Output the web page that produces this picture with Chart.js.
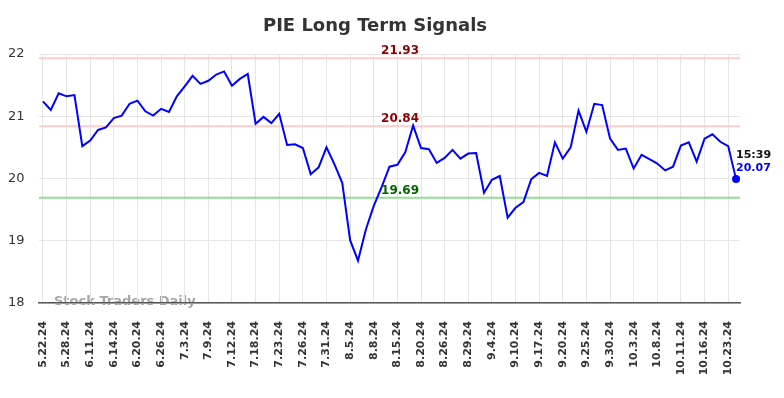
<!DOCTYPE html>
<html>
<head>
<meta charset="utf-8">
<script src="https://cdn.jsdelivr.net/npm/chart.js@4.4.0/dist/chart.umd.min.js"></script>
<style>
  html, body { margin: 0; padding: 0; background: #ffffff; }
  #wrap { width: 784px; height: 398px; position: relative; }
</style>
</head>
<body>
<div id="wrap"><canvas id="c" width="784" height="398"></canvas></div>
<script>
const chartTitle = "PIE Long Term Signals";
const tickLabels = ["5.22.24","5.28.24","6.11.24","6.14.24","6.20.24","6.26.24","7.3.24","7.9.24","7.12.24","7.18.24","7.23.24","7.26.24","7.31.24","8.5.24","8.8.24","8.15.24","8.20.24","8.26.24","8.29.24","9.4.24","9.10.24","9.17.24","9.20.24","9.25.24","9.30.24","10.3.24","10.8.24","10.11.24","10.16.24","10.23.24"];
const tickEvery = 3;
const prices = [21.24,21.10,21.37,21.32,21.34,20.52,20.61,20.78,20.82,20.97,
  21.01,21.20,21.25,21.08,21.01,21.12,21.07,21.32,21.48,21.65,
  21.52,21.57,21.67,21.72,21.49,21.60,21.68,20.88,20.99,20.89,
  21.04,20.54,20.55,20.49,20.07,20.18,20.50,20.23,19.93,19.01,
  18.68,19.18,19.56,19.86,20.19,20.22,20.42,20.85,20.49,20.47,
  20.25,20.33,20.46,20.32,20.40,20.41,19.77,19.98,20.04,19.37,
  19.53,19.62,19.99,20.09,20.04,20.58,20.32,20.50,21.09,20.75,
  21.20,21.18,20.64,20.46,20.48,20.16,20.38,20.31,20.24,20.13,
  20.19,20.53,20.58,20.27,20.64,20.71,20.59,20.52,19.99];
const levelValues = [21.93, 20.84, 19.69];
const levelLineColors = ["#ffcccc", "#ffcccc", "#90e090"];
const levelTextColors = ["#8b0000", "#8b0000", "#006400"];
const lastTime = "15:39";
const lastPriceText = "20.07";
const watermark = "Stock Traders Daily";
const yTicks = [18, 19, 20, 21, 22];

const categories = prices.map((_, i) => (i % tickEvery === 0 && tickLabels[i / tickEvery] !== undefined) ? tickLabels[i / tickEvery] : "");

const overlay = {
  id: "overlay",
  beforeDraw(chart) {
    const ctx = chart.ctx, a = chart.chartArea;
    ctx.save();
    ctx.font = "bold 13px 'DejaVu Sans'";
    ctx.fillStyle = "rgba(150,150,150,0.85)";
    ctx.textAlign = "left";
    ctx.textBaseline = "middle";
    ctx.fillText(watermark, a.left + 15, a.bottom - 1);
    ctx.restore();
  },
  beforeDatasetsDraw(chart) {
    const ctx = chart.ctx, a = chart.chartArea, ys = chart.scales.y;
    ctx.save();
    levelValues.forEach((v, k) => {
      const y = ys.getPixelForValue(v);
      ctx.strokeStyle = levelLineColors[k];
      ctx.lineWidth = 2;
      ctx.beginPath();
      ctx.moveTo(a.left, y);
      ctx.lineTo(a.right, y);
      ctx.stroke();
    });
    ctx.restore();
  },
  afterDatasetsDraw(chart) {
    const ctx = chart.ctx, a = chart.chartArea, ys = chart.scales.y, xs = chart.scales.x;
    ctx.save();
    const cx = a.left + (a.right - a.left) * 0.515;
    ctx.font = "bold 12px 'DejaVu Sans'";
    ctx.textAlign = "center";
    ctx.textBaseline = "alphabetic";
    levelValues.forEach((v, k) => {
      const y = ys.getPixelForValue(v);
      ctx.fillStyle = levelTextColors[k];
      ctx.fillText(v.toFixed(2), cx, y - 4);
    });
    const li = prices.length - 1;
    const px = xs.getPixelForValue(li);
    const py = ys.getPixelForValue(prices[li]);
    ctx.textAlign = "left";
    ctx.textBaseline = "middle";
    ctx.font = "bold 11px 'DejaVu Sans'";
    ctx.fillStyle = "#111111";
    ctx.fillText(lastTime, px, py - 24);
    ctx.fillStyle = "#0000ff";
    ctx.fillText(lastPriceText, px, py - 11);
    // title
    ctx.font = "bold 18px 'DejaVu Sans'";
    ctx.fillStyle = "#333333";
    ctx.textAlign = "center";
    ctx.textBaseline = "middle";
    ctx.fillText(chartTitle, 375, 26);
    ctx.restore();
  }
};

new Chart(document.getElementById("c"), {
  type: "line",
  data: {
    labels: categories,
    datasets: [{
      data: prices,
      borderColor: "#0000ff",
      backgroundColor: "#0000ff",
      borderWidth: 2,
      tension: 0,
      pointRadius: (c) => c.dataIndex === prices.length - 1 ? 4 : 0,
      pointHoverRadius: 0,
      pointBorderWidth: 0,
      fill: false
    }]
  },
  options: {
    responsive: false,
    animation: false,
    devicePixelRatio: 1,
    layout: { padding: { left: 8, right: 44, top: 54, bottom: 0 } },
    plugins: { legend: { display: false }, title: { display: false }, tooltip: { enabled: false } },
    scales: {
      x: {
        type: "category",
        offset: true,
        afterFit: (s) => { s.height = 95; s.paddingLeft = 0; s.paddingRight = 0; },
        grid: { color: "#e6e6e6", lineWidth: 1, drawTicks: false, offset: false },
        border: { display: true, color: "#555555", width: 1.5 },
        ticks: {
          autoSkip: false,
          maxRotation: 90,
          minRotation: 90,
          padding: 18,
          color: "#333333",
          font: { family: "DejaVu Sans", size: 11, weight: "bold" },
          callback: function (value) {
            const l = this.getLabelForValue(value);
            return l === "" ? null : l;
          }
        }
      },
      y: {
        min: 18,
        max: 22,
        afterBuildTicks: (s) => { s.ticks = yTicks.map(v => ({ value: v })); },
        afterFit: (s) => { s.width = 31; },
        grid: { color: "#e6e6e6", lineWidth: 1, drawTicks: false },
        border: { display: false },
        ticks: {
          padding: 14.5,
          color: "#333333",
          font: { family: "DejaVu Sans", size: 13 }
        }
      }
    }
  },
  plugins: [overlay]
});
</script>
</body>
</html>
